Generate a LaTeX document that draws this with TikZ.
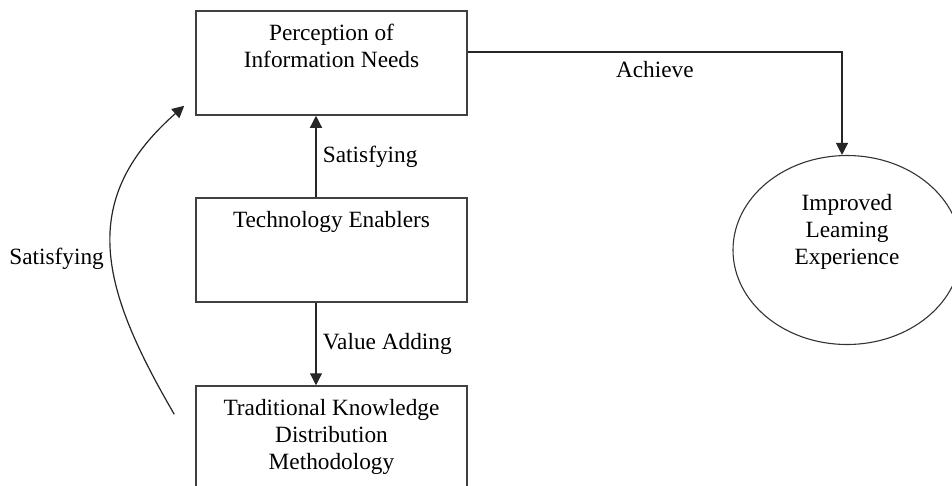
\documentclass[tikz,border=0pt]{standalone}
\usepackage{fontspec}
\setmainfont{Liberation Serif}
\usetikzlibrary{arrows.meta, shapes.geometric}

\tikzset{
  stage/.style={draw=black!75, line width=1.5pt, rectangle, minimum width=271pt, minimum height=104pt, inner sep=0pt},
  goal/.style={draw=black!80, line width=1.1pt, ellipse, minimum width=228pt, minimum height=189pt, inner sep=0pt},
  intext/.style={anchor=north, inner sep=0pt, align=center, yshift=#1},
  intext/.default=-13.5pt,
  flow/.style={draw=black!85, line width=1.2pt, -{Triangle[length=12pt, width=12pt]}}
}

\begin{document}
\begin{tikzpicture}[x=1pt, y=-1pt, font=\fontsize{23.3}{27}\selectfont]
  \clip (0,0) rectangle (952,485);

  % the three stages, top to bottom
  \node[stage, label={[intext]north:Perception of\\Information Needs}] (needs) at (331.5,63) {};
  \node[stage, label={[intext]north:Technology Enablers}] (tech) at (331.5,250) {};
  \node[stage, label={[intext]north:Traditional Knowledge\\Distribution\\Methodology}] (trad) at (331.5,438) {};

  % the outcome
  \node[goal, label={[intext=-39.5pt]north:Improved\\Leaming\\Experience}] (learn) at (847,250) {};

  % arrows between the stages
  \draw[flow] ([yshift=11pt]needs.east) -| ([xshift=-5pt]learn.north)
    node[pos=0.25, below=5.5pt] {Achieve};
  \draw[flow] ([xshift=-15.5pt]tech.north) -- ([xshift=-15.5pt]needs.south)
    node[midway, right=3pt] {Satisfying};
  \draw[flow] ([xshift=-15.5pt]tech.south) -- ([xshift=-15.5pt]trad.north)
    node[midway, right=3pt] {Value Adding};

  % curved arrow on the left
  \draw[flow] ([xshift=-21pt, yshift=-29pt]trad.north west)
    .. controls +(-72.5,-124.7) and +(-108.75,95.7) .. ([xshift=-11pt, yshift=10pt]needs.south west)
    node[pos=0.5, left=3.5pt, yshift=-10pt] {Satisfying};
\end{tikzpicture}
\end{document}
